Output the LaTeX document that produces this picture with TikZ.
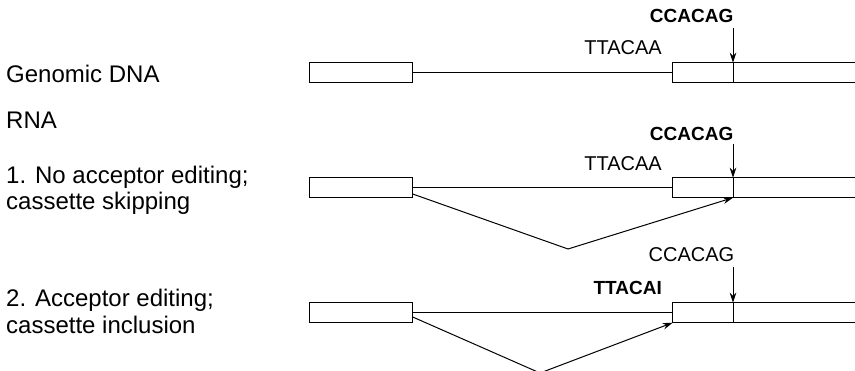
\documentclass[tikz,border=0pt]{standalone}
\usepackage{fontspec}
\setmainfont{Liberation Sans}
\usetikzlibrary{arrows.meta}
\begin{document}
\begin{tikzpicture}[x=1pt,y=-1pt,
  exon/.style={draw, line width=1.4pt, rectangle, minimum height=20pt,
    inner sep=0pt, outer sep=0pt, anchor=north west},
  intron/.style={line width=1pt},
  splice/.style={line width=1pt, -{Stealth[length=10pt,width=6.5pt]}},
  lab/.style={font=\fontsize{24}{28}\selectfont, anchor=base west, inner sep=0pt},
  seq/.style={font=\fontsize{20}{24}\selectfont, anchor=base east, inner sep=0pt},
  seqb/.style={font=\fontsize{19}{23}\selectfont\bfseries, anchor=base east, inner sep=0pt}]
\useasboundingbox (0,0) rectangle (855,371);
\clip (0,0) rectangle (855,371);

% row labels
\node[lab] (lgen) at (6,83) {Genomic DNA};
\node[lab] (lrna) at (6,129) {RNA};
\node[lab] (lone) at (6,184) {1. No acceptor editing;};
\node[lab] (lonb) at (6,210) {cassette skipping};
\node[lab] (ltwo) at (6,307) {2. Acceptor editing;};
\node[lab] (ltwb) at (6,334) {cassette inclusion};

% genomic DNA
\node[exon, minimum width=103pt] (e1a) at (309.7,62.7) {};
\node[exon, minimum width=200pt] (e1b) at (672.7,62.7) {};
\draw[intron] (e1a.east) -- (e1b.west);
\node[seqb] (c1) at (733.5,23) {CCACAG};
\node[seq] (t1) at (662,55) {TTACAA};
\coordinate (s1) at (733,28);
\draw[splice] (s1) -- (e1b.north -| s1);
\draw[intron] (e1b.north -| s1) -- (e1b.south -| s1);

% RNA 1: no acceptor editing, cassette skipped
\node[exon, minimum width=103pt] (e2a) at (309.7,177.7) {};
\node[exon, minimum width=200pt] (e2b) at (672.7,177.7) {};
\draw[intron] (e2a.east) -- (e2b.west);
\node[seqb] (c2) at (733.5,141) {CCACAG};
\node[seq] (t2) at (662,171) {TTACAA};
\coordinate (s2) at (733,144);
\draw[splice] (s2) -- (e2b.north -| s2);
\draw[intron] (e2b.north -| s2) -- (e2b.south -| s2);
\coordinate (v2) at (568,249);
\draw[intron] (e2a.east |- 0,194) -- (v2);
\draw[splice] (v2) -- (e2b.south -| s2);

% RNA 2: acceptor editing, cassette included
\node[exon, minimum width=103pt] (e3a) at (309.7,302.7) {};
\node[exon, minimum width=200pt] (e3b) at (672.7,302.7) {};
\draw[intron] (e3a.east) -- (e3b.west);
\node[seq] (c3) at (734.5,262) {CCACAG};
\node[seqb] (t3) at (662,295) {TTACAI};
\coordinate (s3) at (733,267);
\draw[splice] (s3) -- (e3b.north -| s3);
\draw[intron] (e3b.north -| s3) -- (e3b.south -| s3);
\coordinate (v3) at (540,373);
\draw[intron] (e3a.east |- 0,317) -- (v3);
\draw[splice] (v3) -- (e3b.south west);
\end{tikzpicture}
\end{document}
